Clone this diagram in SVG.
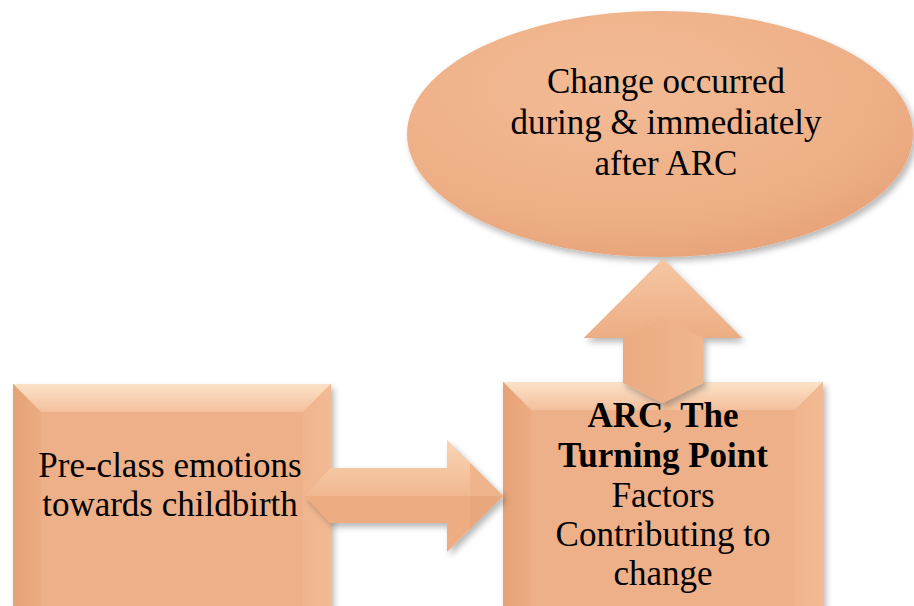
<svg xmlns="http://www.w3.org/2000/svg" width="914" height="606" viewBox="0 0 914 606">
  <defs>
    <style>
      .label { font-family: "Liberation Serif", "Times New Roman", serif; font-size: 35px; fill: #000; text-anchor: middle; }
      .bold { font-weight: bold; }
      .face { fill: #EEB088; }
    </style>
    <filter id="shadow" x="-10%" y="-10%" width="125%" height="125%">
      <feDropShadow dx="3" dy="4" stdDeviation="3" flood-color="#000" flood-opacity="0.28"/>
    </filter>
    <linearGradient id="bevelTop" x1="0" y1="0" x2="0" y2="1">
      <stop offset="0" stop-color="#FCE2C8"/>
      <stop offset="1" stop-color="#F3C09C"/>
    </linearGradient>
    <linearGradient id="bevelLeft" x1="0" y1="0" x2="1" y2="0">
      <stop offset="0" stop-color="#E6A278"/>
      <stop offset="1" stop-color="#ECAB82"/>
    </linearGradient>
    <linearGradient id="bevelRight" x1="0" y1="0" x2="1" y2="0">
      <stop offset="0" stop-color="#F0B58D"/>
      <stop offset="1" stop-color="#F2BA94"/>
    </linearGradient>
    <radialGradient id="ovalFill" cx="0.42" cy="0.32" r="0.7">
      <stop offset="0" stop-color="#F2BB95"/>
      <stop offset="0.75" stop-color="#EEAF86"/>
      <stop offset="1" stop-color="#E8A47B"/>
    </radialGradient>
    <linearGradient id="hArrowTop" x1="0" y1="0" x2="0" y2="1">
      <stop offset="0" stop-color="#FBDDC0"/>
      <stop offset="1" stop-color="#F1BA92"/>
    </linearGradient>
    <linearGradient id="vArrowShaft" x1="0" y1="0" x2="1" y2="0">
      <stop offset="0" stop-color="#E8A67C"/>
      <stop offset="0.5" stop-color="#EEB088"/>
      <stop offset="1" stop-color="#F2BC95"/>
    </linearGradient>
    <linearGradient id="vArrowHead" x1="0" y1="0" x2="0" y2="1">
      <stop offset="0" stop-color="#F5C7A3"/>
      <stop offset="1" stop-color="#EDAD84"/>
    </linearGradient>
  </defs>

  <rect width="914" height="606" fill="#FFFFFF"/>

  <!-- outcome oval -->
  <g id="node-change">
    <ellipse cx="660" cy="134" rx="253" ry="123" fill="url(#ovalFill)" filter="url(#shadow)"/>
    <text class="label" x="666" y="93">Change occurred</text>
    <text class="label" x="666" y="134">during &amp; immediately</text>
    <text class="label" x="666" y="175">after ARC</text>
  </g>

  <!-- starting box -->
  <g id="node-preclass">
    <g filter="url(#shadow)">
      <rect class="face" x="13" y="384" width="318" height="240"/>
    </g>
    <polygon points="13,384 331,384 303,412 41,412" fill="url(#bevelTop)"/>
    <polygon points="13,384 41,412 41,624 13,624" fill="url(#bevelLeft)"/>
    <polygon points="331,384 331,624 303,624 303,412" fill="url(#bevelRight)"/>
    <text class="label" x="170" y="477">Pre-class emotions</text>
    <text class="label" x="170" y="516">towards childbirth</text>
  </g>

  <!-- turning point box -->
  <g id="node-arc">
    <g filter="url(#shadow)">
      <rect class="face" x="503" y="382" width="320" height="240"/>
    </g>
    <polygon points="503,382 823,382 795,410 531,410" fill="url(#bevelTop)"/>
    <polygon points="503,382 531,410 531,622 503,622" fill="url(#bevelLeft)"/>
    <polygon points="823,382 823,622 795,622 795,410" fill="url(#bevelRight)"/>
  </g>

  <!-- block arrows between the stages -->
  <g id="connectors">
    <g id="arrow-right" filter="url(#shadow)">
      <polygon points="305,496 330,468 447,468 447,440 503,496 447,552 447,523 330,523" fill="#EDAC82"/>
      <polygon points="305,496 330,468 447,468 447,440 503,496 475,496" fill="url(#hArrowTop)" opacity="0.85"/>
      <polygon points="447,440 503,496 470,496 470,463" fill="#F0B48C"/>
      <polygon points="447,552 503,496 470,496 470,529" fill="#E9A77D"/>
    </g>
    <g id="arrow-up" filter="url(#shadow)">
      <polygon points="623,383 623,338 584,338 663,259 742,338 703,338 703,383 663,403" fill="url(#vArrowShaft)"/>
      <polygon points="584,338 663,259 742,338 703,338 663,318 623,338" fill="url(#vArrowHead)"/>
    </g>
  </g>

  <!-- turning point text sits above the up arrow's tail -->
  <g id="node-arc-text">
    <text class="label bold" x="663" y="427">ARC, The</text>
    <text class="label bold" x="663" y="467">Turning Point</text>
    <text class="label" x="663" y="507">Factors</text>
    <text class="label" x="663" y="546">Contributing to</text>
    <text class="label" x="663" y="585">change</text>
  </g>
</svg>
